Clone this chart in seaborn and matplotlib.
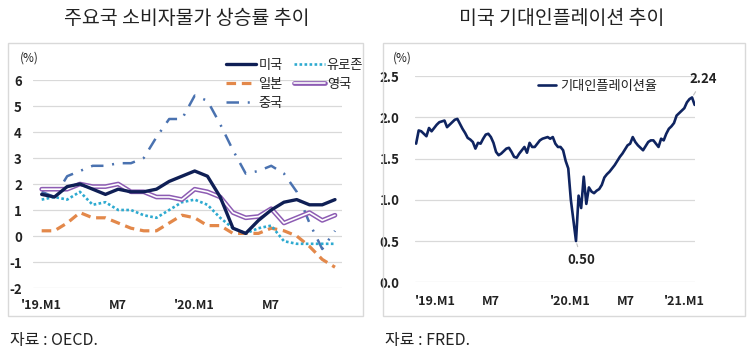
import matplotlib.pyplot as plt
import seaborn as sns
import pandas as pd
from matplotlib.patches import Rectangle
from matplotlib.lines import Line2D
from matplotlib.legend_handler import HandlerTuple

# ---- left panel: CPI growth, '19.M1 ~ '20.M12 (%)
months = list(range(24))
month_ticks = [0, 6, 12, 18]
month_labels = ["'19.M1", "M7", "'20.M1", "M7"]

us = [1.6, 1.5, 1.9, 2.0, 1.8, 1.6, 1.8, 1.7, 1.7, 1.8, 2.1, 2.3,
      2.5, 2.3, 1.5, 0.3, 0.1, 0.6, 1.0, 1.3, 1.4, 1.2, 1.2, 1.4]
euro = [1.4, 1.5, 1.4, 1.7, 1.2, 1.3, 1.0, 1.0, 0.8, 0.7, 1.0, 1.3,
        1.4, 1.2, 0.7, 0.3, 0.1, 0.3, 0.4, -0.2, -0.3, -0.3, -0.3, -0.3]
japan = [0.2, 0.2, 0.5, 0.9, 0.7, 0.7, 0.5, 0.3, 0.2, 0.2, 0.5, 0.8,
         0.7, 0.4, 0.4, 0.1, 0.1, 0.1, 0.3, 0.2, 0.0, -0.4, -0.9, -1.2]
uk = [1.8, 1.8, 1.8, 2.0, 1.9, 1.9, 2.0, 1.7, 1.7, 1.5, 1.5, 1.4,
      1.8, 1.7, 1.5, 0.9, 0.7, 0.75, 1.05, 0.5, 0.7, 0.9, 0.6, 0.8]
china = [1.7, 1.5, 2.3, 2.5, 2.7, 2.7, 2.8, 2.8, 3.0, 3.8, 4.5, 4.5,
         5.4, 5.2, 4.3, 3.3, 2.4, 2.5, 2.7, 2.4, 1.7, 0.5, -0.5, 0.2]

# ---- right panel: US expected inflation (weekly readings, %)
bei_dates = pd.date_range("2019-01-04", periods=109, freq="W-FRI")
bei = [1.68, 1.84, 1.83, 1.80, 1.77, 1.87, 1.83, 1.87, 1.91, 1.94, 1.95, 1.96,
       1.88, 1.91, 1.94, 1.97, 1.98, 1.92, 1.86, 1.81, 1.75, 1.73, 1.70, 1.62,
       1.69, 1.68, 1.74, 1.79, 1.80, 1.76, 1.69, 1.58, 1.54, 1.56, 1.59, 1.62,
       1.63, 1.58, 1.52, 1.51, 1.56, 1.60, 1.64, 1.57, 1.69, 1.64, 1.64, 1.68,
       1.72, 1.74, 1.75, 1.76, 1.74, 1.76, 1.68, 1.64, 1.64, 1.60, 1.47, 1.38,
       1.00, 0.75, 0.50, 1.05, 0.90, 1.28, 0.95, 1.15, 1.10, 1.08, 1.11, 1.13,
       1.18, 1.27, 1.31, 1.34, 1.38, 1.42, 1.47, 1.52, 1.56, 1.61, 1.66, 1.68,
       1.76, 1.70, 1.66, 1.63, 1.60, 1.65, 1.70, 1.72, 1.72, 1.68, 1.64, 1.74,
       1.72, 1.80, 1.86, 1.89, 1.93, 2.02, 2.05, 2.08, 2.11, 2.18, 2.22, 2.24,
       2.15]
bei_ticks = ["2019-01-01", "2019-07-01", "2020-01-01", "2020-07-01", "2021-01-01"]
bei_labels = ["'19.M1", "M7", "'20.M1", "M7", "'21.M1"]

sns.set_style("white")
plt.rcParams['font.family'] = ['Noto Sans CJK KR', 'DejaVu Sans']
plt.rcParams['text.color'] = '#222222'
plt.rcParams['axes.unicode_minus'] = False

W, H = 750, 361
fig = plt.figure(figsize=(7.5, 3.61), dpi=100)

# panel frames
for x0, x1 in [(8, 363), (383, 745)]:
    fig.patches.append(Rectangle((x0 / W, 1 - 316 / H), (x1 - x0) / W, (316 - 43) / H,
                                 transform=fig.transFigure, fill=False,
                                 edgecolor='#d9d9d9', lw=1))

ax1 = fig.add_axes([33 / W, 1 - 288 / H, (342 - 33) / W, (288 - 80) / H])
ax2 = fig.add_axes([415 / W, 1 - 282.3 / H, (695 - 415) / W, (282.3 - 76) / H])

navy = '#0f1f55'
c_euro = '#2eaad0'
c_japan = '#e3884a'
c_uk = '#8d5cb3'
c_china = '#4a72b0'

sns.lineplot(x=months, y=china, ax=ax1, color=c_china, lw=1.8,
             linestyle=(0, (5, 3.5, 0.8, 3.5)), legend=False)
sns.lineplot(x=months, y=japan, ax=ax1, color=c_japan, lw=2.3,
             linestyle=(0, (3, 1.8)), legend=False)
sns.lineplot(x=months, y=euro, ax=ax1, color=c_euro, lw=1.9,
             linestyle=(0, (1, 0.9)), legend=False)
sns.lineplot(x=months, y=uk, ax=ax1, color=c_uk, lw=3.4, legend=False)
sns.lineplot(x=months, y=uk, ax=ax1, color='white', lw=1.2, legend=False)
sns.lineplot(x=months, y=us, ax=ax1, color=navy, lw=2.4, legend=False)

ax1.set_xlim(-0.68, 23.55)
ax1.set_ylim(-2, 6)
ax1.set_yticks(range(-2, 7))
ax1.set_xticks(month_ticks)
ax1.set_xticklabels(month_labels)

sns.lineplot(x=bei_dates, y=bei, ax=ax2, color='#0f2460', lw=1.9, legend=False)
ax2.set_xlim(pd.Timestamp("2019-01-03"), pd.Timestamp("2021-01-30"))
ax2.set_ylim(0, 2.5)
ax2.set_yticks([0, 0.5, 1.0, 1.5, 2.0, 2.5])
ax2.set_yticklabels([f"{v:.1f}" for v in [0, 0.5, 1.0, 1.5, 2.0, 2.5]])
ax2.set_xticks(pd.to_datetime(bei_ticks))
ax2.set_xticklabels(bei_labels)
for lab in ax2.get_xticklabels()[:4]:
    lab.set_ha('left')

for ax in (ax1, ax2):
    ax.grid(axis='y', color='#d9d9d9', lw=0.9)
    ax.grid(axis='x', visible=False)
    ax.set_axisbelow(True)
    sns.despine(ax=ax, left=True, bottom=True)
    ax.set_xlabel('')
    ax.set_ylabel('')
    ax.tick_params(length=0, labelsize=9.5, labelcolor='#222222')
    for lab in ax.get_xticklabels() + ax.get_yticklabels():
        lab.set_fontweight('bold')
ax1.tick_params(axis='x', labelsize=9)
ax2.tick_params(axis='x', labelsize=9)
ax1.tick_params(axis='y', pad=8)
ax1.tick_params(axis='x', pad=8)
ax2.tick_params(axis='y', pad=11)
ax2.tick_params(axis='x', pad=9)

# annotations on the right panel
imax = bei.index(max(bei))
imin = bei.index(min(bei))
ax2.annotate(f"{bei[imax]:.2f}", xy=(bei_dates[imax], bei[imax]), xytext=(1.03, 0.985),
             textcoords='axes fraction', ha='center', va='center', fontsize=9.5,
             fontweight='bold', arrowprops=dict(arrowstyle='-', color='#bfbfbf', lw=0.8))
ax2.annotate(f"{bei[imin]:.2f}", xy=(bei_dates[imin], bei[imin]), xytext=(0.595, 0.11),
             textcoords='axes fraction', ha='center', va='center', fontsize=9.5,
             fontweight='bold', arrowprops=dict(arrowstyle='-', color='#bfbfbf', lw=0.8))

# legends
h_us = Line2D([], [], color=navy, lw=2.4)
h_euro = Line2D([], [], color=c_euro, lw=1.9, linestyle=(0, (1, 0.9)))
h_japan = Line2D([], [], color=c_japan, lw=2.3, linestyle=(0, (3, 1.8)))
h_uk = (Line2D([], [], color=c_uk, lw=3.4), Line2D([], [], color='white', lw=1.2))
h_china = Line2D([], [], color=c_china, lw=1.8, linestyle=(0, (5, 3.5, 0.8, 3.5)))
fig.legend([h_us, h_japan, h_china, h_euro, h_uk], ['미국', '일본', '중국', '유로존', '영국'],
           handler_map={tuple: HandlerTuple(ndivide=1)}, ncol=2, frameon=False,
           loc='upper left', bbox_to_anchor=(226 / W, 1 - 59 / H), fontsize=9.5,
           handlelength=2.3, handletextpad=0.15, columnspacing=0.9, labelspacing=0.45,
           borderpad=0, borderaxespad=0)
fig.legend([Line2D([], [], color='#0f2460', lw=1.9)], ['기대인플레이션율'], frameon=False,
           loc='upper left', bbox_to_anchor=(538 / W, 1 - 80 / H), fontsize=9.5,
           handlelength=1.4, handletextpad=0.25, borderpad=0, borderaxespad=0)

# texts
fig.text(20 / W, 1 - 58 / H, '(%)', fontsize=8.5, ha='left', va='center')
fig.text(393 / W, 1 - 58 / H, '(%)', fontsize=8.5, ha='left', va='center')
fig.text(187 / W, 1 - 18 / H, '주요국 소비자물가 상승률 추이', fontsize=14, ha='center', va='center')
fig.text(562 / W, 1 - 18 / H, '미국 기대인플레이션 추이', fontsize=14, ha='center', va='center')
fig.text(10 / W, 1 - 341 / H, '자료 : OECD.', fontsize=11.5, ha='left', va='center')
fig.text(385 / W, 1 - 341 / H, '자료 : FRED.', fontsize=11.5, ha='left', va='center')

fig.savefig('out.png', dpi=100)
